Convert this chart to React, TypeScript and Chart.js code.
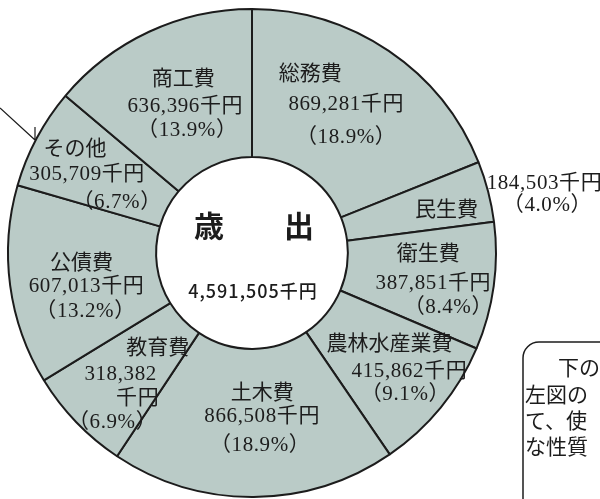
import React, { useEffect, useRef } from 'react';
import { Chart, registerables } from 'chart.js';

Chart.register(...registerables);

// ---- data ----
const CATEGORIES = ['総務費', '民生費', '衛生費', '農林水産業費', '土木費', '教育費', '公債費', 'その他', '商工費'];
const VALUES = [869281, 184503, 387851, 415862, 866508, 318382, 607013, 305709, 636396];
const PERCENTS = ['18.9', '4.0', '8.4', '9.1', '18.9', '6.9', '13.2', '6.7', '13.9'];
const CENTER_TITLE = '歳　　出';
const TOTAL_LABEL = '4,591,505千円';
const NOTE_LINES = ['下の', '左図の', 'て、使', 'な性質'];

// ---- label layout (offsets from each slice's ring midpoint) ----
type Kind = 'name' | 'value' | 'num' | 'unit' | 'pct';
const LABEL_LAYOUT: [Kind, number, number][][] = [
  [['name', -37, -40], ['value', -1, -9], ['pct', -1, 23]],
  [['name', 30, -2], ['value', 128, -28], ['pct', 131, -7]],
  [['name', 8, -24], ['value', 13, 6], ['pct', 28, 29]],
  [['name', 6, -18], ['value', 26, 9], ['pct', 22, 31]],
  [['name', 9, -31], ['value', 9, -8], ['pct', 7, 20]],
  [['name', 28, -24], ['num', -9, 4], ['unit', 8, 26], ['pct', -17, 49]],
  [['name', -2, -14], ['value', 3, 9], ['pct', 2, 33]],
  [['name', -27, -25], ['value', -15, 0], ['pct', 15, 27]],
  [['name', 3, -21], ['value', 5, 6], ['pct', 7, 29]],
];

const FILL = '#bacbc7';
const INK = '#1c1c1c';
const NAME_FONT = '21px "Liberation Serif", "Noto Sans CJK JP"';
const NUM_FONT = '21px "Liberation Serif", "Noto Sans CJK JP"';

function fmt(n: number) {
  return n.toLocaleString('en-US');
}

function textFor(kind: Kind, i: number) {
  switch (kind) {
    case 'name': return CATEGORIES[i];
    case 'value': return fmt(VALUES[i]) + '千円';
    case 'num': return fmt(VALUES[i]);
    case 'unit': return '千円';
    case 'pct': return '（' + PERCENTS[i] + '%）';
  }
}

// draw text so that its ink box is centred vertically on y
function drawCentered(ctx: CanvasRenderingContext2D, text: string, x: number, y: number) {
  ctx.textBaseline = 'alphabetic';
  const m = ctx.measureText(text);
  ctx.fillText(text, x, y + (m.actualBoundingBoxAscent - m.actualBoundingBoxDescent) / 2);
}

const labelPlugin = {
  id: 'sliceLabels',
  afterDatasetsDraw(chart: any) {
    const ctx: CanvasRenderingContext2D = chart.ctx;
    const meta = chart.getDatasetMeta(0);
    ctx.save();
    ctx.fillStyle = INK;
    ctx.textAlign = 'center';
    meta.data.forEach((el: any, i: number) => {
      const { x, y, startAngle, endAngle, innerRadius, outerRadius } = el.getProps(
        ['x', 'y', 'startAngle', 'endAngle', 'innerRadius', 'outerRadius'],
        true
      );
      const mid = (startAngle + endAngle) / 2;
      const r = (innerRadius + outerRadius) / 2;
      const px = x + Math.cos(mid) * r;
      const py = y + Math.sin(mid) * r;
      LABEL_LAYOUT[i].forEach(([kind, dx, dy]) => {
        if (kind === 'name') {
          ctx.font = NAME_FONT;
          (ctx as any).letterSpacing = '0px';
        } else {
          ctx.font = NUM_FONT;
          (ctx as any).letterSpacing = '0.6px';
        }
        drawCentered(ctx, textFor(kind, i), px + dx, py + dy);
      });
    });
    (ctx as any).letterSpacing = '0px';
    const c = meta.data[0];
    ctx.font = 'bold 30px "Noto Sans CJK JP"';
    drawCentered(ctx, CENTER_TITLE, c.x + 2, c.y - 27);
    ctx.font = '500 18px "Noto Sans CJK JP"';
    (ctx as any).letterSpacing = '1px';
    drawCentered(ctx, TOTAL_LABEL, c.x + 1, c.y + 39);
    (ctx as any).letterSpacing = '0px';
    ctx.restore();
  },
};

const decorPlugin = {
  id: 'decor',
  afterDraw(chart: any) {
    const ctx: CanvasRenderingContext2D = chart.ctx;
    ctx.save();
    ctx.strokeStyle = INK;
    // pointer arrow
    ctx.lineWidth = 1.2;
    ctx.beginPath();
    ctx.moveTo(0, 108);
    ctx.lineTo(35, 140);
    ctx.moveTo(35, 127);
    ctx.lineTo(35, 140);
    ctx.stroke();
    // note box
    ctx.lineWidth = 1.5;
    ctx.beginPath();
    ctx.moveTo(523, 520);
    ctx.lineTo(523, 358);
    ctx.arcTo(523, 342, 539, 342, 16);
    ctx.lineTo(620, 342);
    ctx.stroke();
    ctx.fillStyle = INK;
    ctx.font = '21px "Noto Sans CJK JP"';
    ctx.textAlign = 'left';
    NOTE_LINES.forEach((t, k) => {
      drawCentered(ctx, t, k === 0 ? 558 : 525, 368 + k * 26);
    });
    ctx.restore();
  },
};

export default function App() {
  const ref = useRef<HTMLCanvasElement | null>(null);
  useEffect(() => {
    if (!ref.current) return;
    const chart = new Chart(ref.current, {
      type: 'doughnut',
      data: {
        labels: CATEGORIES,
        datasets: [
          {
            data: VALUES,
            backgroundColor: FILL,
            borderColor: INK,
            borderWidth: 2,
          },
        ],
      },
      options: {
        responsive: false,
        animation: false,
        events: [],
        cutout: '39.3%',
        rotation: 0,
        layout: { padding: { left: 7, right: 103, top: 8, bottom: 1 } },
        plugins: {
          legend: { display: false },
          tooltip: { enabled: false },
        },
      },
      plugins: [labelPlugin, decorPlugin],
    });
    return () => chart.destroy();
  }, []);
  return (
    <div style={{ position: 'fixed', left: 0, top: 0, width: 600, height: 499, background: '#fff', overflow: 'hidden' }}>
      <canvas ref={ref} width={600} height={499} style={{ width: 600, height: 499, display: 'block' }} />
    </div>
  );
}
